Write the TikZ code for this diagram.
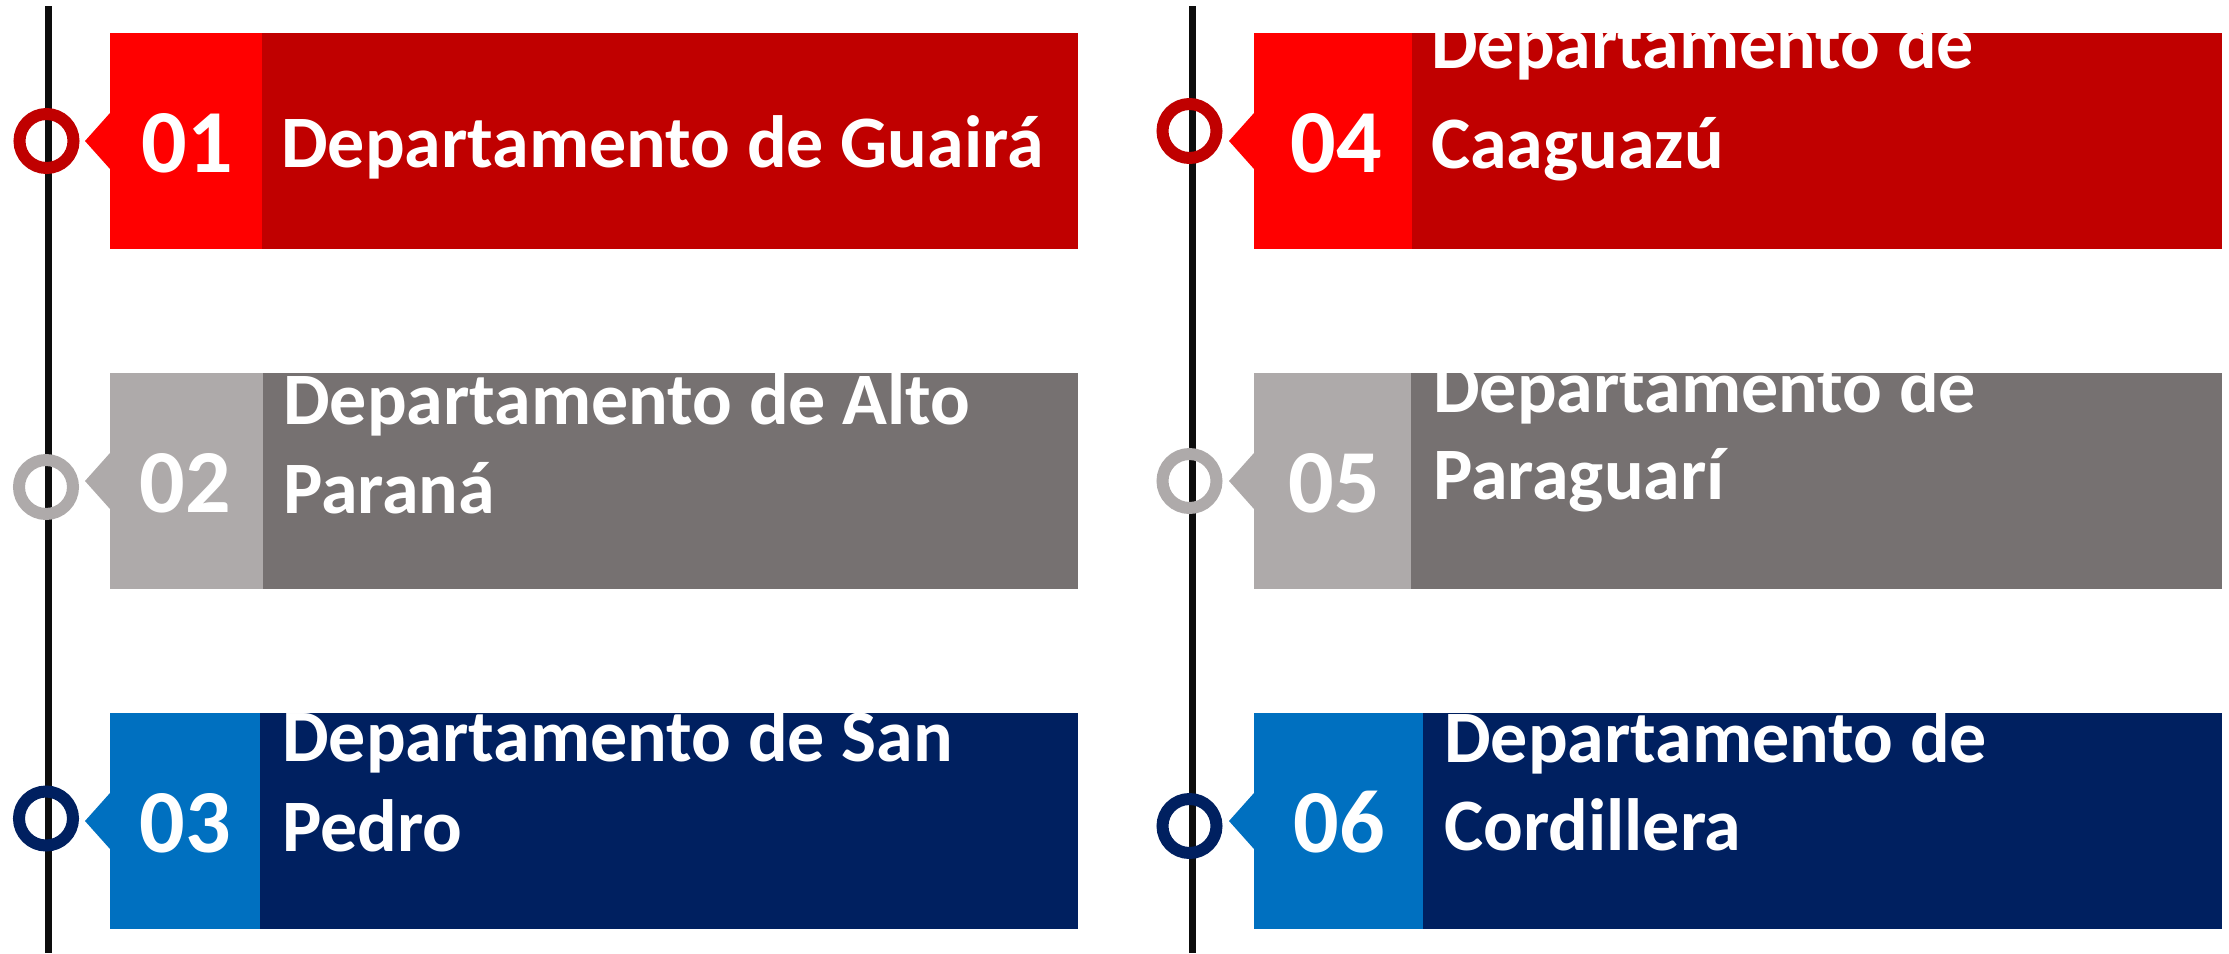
\documentclass[tikz,border=0pt]{standalone}
\usepackage{fontspec}
\setmainfont{Carlito}
\definecolor{redL}{HTML}{FF0000}
\definecolor{redD}{HTML}{C00000}
\definecolor{greyL}{HTML}{AEAAAA}
\definecolor{greyD}{HTML}{767171}
\definecolor{blueL}{HTML}{0070C0}
\definecolor{blueD}{HTML}{002060}
\definecolor{axis}{HTML}{0D0D0D}
\begin{document}
\begin{tikzpicture}[x=1pt,y=-1pt,
  num/.style={text=white,font=\bfseries\fontsize{90}{90}\selectfont,inner sep=0pt,anchor=base},
  lbl/.style={text=white,font=\bfseries\fontsize{74}{74}\selectfont,inner sep=0pt,anchor=base west},
  ring/.style={circle,draw=#1,line width=12pt,minimum size=54pt,inner sep=0pt},
  axisline/.style={draw=axis,line width=7pt}]
\useasboundingbox (0,0) rectangle (2229,953);

% timelines
\coordinate (l1t) at (48.5,6);
\coordinate (l1b) at (48.5,953);
\coordinate (l2t) at (1192.5,6);
\coordinate (l2b) at (1192.5,953);
\draw[axisline] (l1t) -- (l1b);
\draw[axisline] (l2t) -- (l2b);

% ---------- row 1 ----------
\fill[redL] (110,33) rectangle (262,249);
\fill[redL] (110,113) -- (85,141) -- (110,169) -- cycle;
\fill[redD] (262,33) rectangle (1078,249);
\node[ring=redD] (c1) at (46.5,141) {};
\node[num] (n1) at (187,172) {01};
\begin{scope}
\clip (262,33) rectangle (1078,249);
\node[lbl] (t1a) at (281,167) {Departamento de Guairá};
\end{scope}

% ---------- row 2 ----------
\fill[greyL] (110,373) rectangle (263,589);
\fill[greyL] (110,453) -- (85,481) -- (110,509) -- cycle;
\fill[greyD] (263,373) rectangle (1078,589);
\node[ring=greyL] (c2) at (46,487) {};
\node[num] (n2) at (185,512) {02};
\begin{scope}
\clip (263,373) rectangle (1078,589);
\node[lbl] (t2a) at (283,424) {Departamento de Alto};
\node[lbl] (t2b) at (283,513) {Paraná};
\end{scope}

% ---------- row 3 ----------
\fill[blueL] (110,713) rectangle (260,929);
\fill[blueL] (110,793) -- (85,821) -- (110,849) -- cycle;
\fill[blueD] (260,713) rectangle (1078,929);
\node[ring=blueD] (c3) at (46,818.5) {};
\node[num] (n3) at (185,852) {03};
\begin{scope}
\clip (260,713) rectangle (1078,929);
\node[lbl] (t3a) at (282,761) {Departamento de San};
\node[lbl] (t3b) at (282,851) {Pedro};
\end{scope}

% ---------- row 4 ----------
\fill[redL] (1254,33) rectangle (1412,249);
\fill[redL] (1254,113) -- (1229,141) -- (1254,169) -- cycle;
\fill[redD] (1412,33) rectangle (2222,249);
\node[ring=redD] (c4) at (1189.5,131) {};
\node[num] (n4) at (1336,172) {04};
\begin{scope}
\clip (1412,33) rectangle (2222,249);
\node[lbl] (t4a) at (1431,68) {Departamento de};
\node[lbl] (t4b) at (1431,168) {Caaguazú};
\end{scope}

% ---------- row 5 ----------
\fill[greyL] (1254,373) rectangle (1411,589);
\fill[greyL] (1254,453) -- (1229,481) -- (1254,509) -- cycle;
\fill[greyD] (1411,373) rectangle (2222,589);
\node[ring=greyL] (c5) at (1189.5,481) {};
\node[num] (n5) at (1334,512) {05};
\begin{scope}
\clip (1411,373) rectangle (2222,589);
\node[lbl] (t5a) at (1433,412) {Departamento de};
\node[lbl] (t5b) at (1433,499) {Paraguarí};
\end{scope}

% ---------- row 6 ----------
\fill[blueL] (1254,713) rectangle (1423,929);
\fill[blueL] (1254,793) -- (1229,821) -- (1254,849) -- cycle;
\fill[blueD] (1423,713) rectangle (2222,929);
\node[ring=blueD] (c6) at (1189.5,826) {};
\node[num] (n6) at (1339,852) {06};
\begin{scope}
\clip (1423,713) rectangle (2222,929);
\node[lbl] (t6a) at (1444,762) {Departamento de};
\node[lbl] (t6b) at (1444,850) {Cordillera};
\end{scope}
\end{tikzpicture}
\end{document}
